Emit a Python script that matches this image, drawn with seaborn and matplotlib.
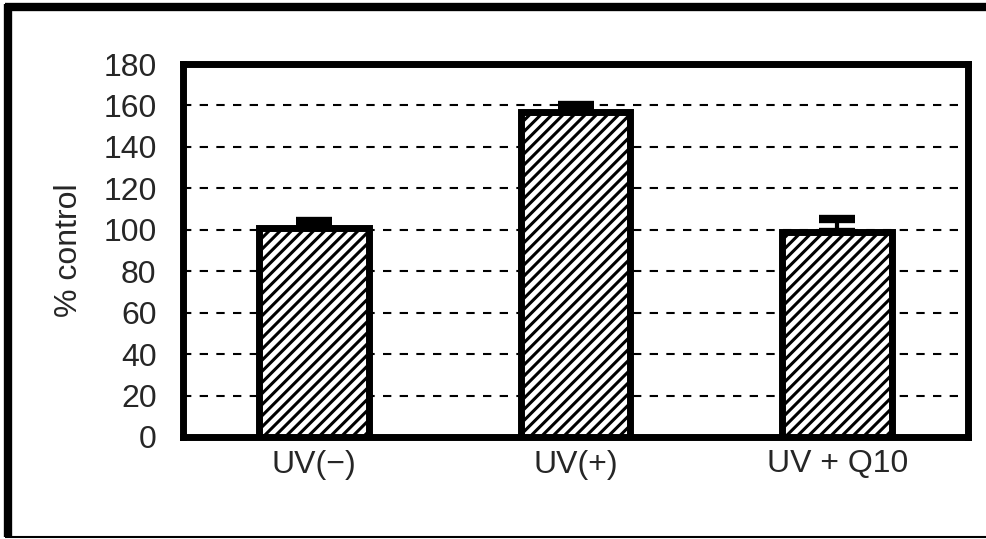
import numpy as np
import pandas as pd
import seaborn as sns
import matplotlib.pyplot as plt
from matplotlib.lines import Line2D

# datos
grupos = ['UV(\u2212)', 'UV(+)', 'UV + Q10']
valores = [101, 157, 99]
errores = [3, 3, 6]
yticks = [0, 20, 40, 60, 80, 100, 120, 140, 160, 180]

df = pd.DataFrame({'grupo': grupos, 'valor': valores, 'error': errores})

sns.set_style('white')
plt.rcParams['font.family'] = ['Liberation Sans', 'DejaVu Sans']
plt.rcParams['hatch.linewidth'] = 2.2

fig = plt.figure(figsize=(9.86, 5.39), dpi=100)
ax = fig.add_axes([183 / 986, 1 - 437 / 539, 785 / 986, 373 / 539])

sns.barplot(data=df, x='grupo', y='valor', color='white', edgecolor='black',
            linewidth=5, width=0.42, ax=ax, zorder=3)
for p in ax.patches:
    p.set_hatch('///')
    p.set_facecolor('white')

# barras de error solo hacia arriba
ax.errorbar(np.arange(len(grupos)), df['valor'], yerr=[np.zeros(len(grupos)), df['error']],
            fmt='none', ecolor='black', elinewidth=3, capsize=13, capthick=6, zorder=2)

ax.set_ylim(0, 180)
ax.set_xlim(-0.5, 2.5)
ax.set_yticks(yticks)
ax.set_yticklabels([str(t) for t in yticks], fontsize=23)
ax.set_xticks(range(len(grupos)))
ax.set_xticklabels(grupos, fontsize=23)
ax.tick_params(axis='x', length=0, pad=9)
ax.tick_params(axis='y', direction='in', length=6, width=1, pad=19)
ax.set_xticks([0.5, 1.5], minor=True)
ax.tick_params(axis='x', which='minor', direction='in', length=6, width=1)
ax.set_xlabel('')
ax.set_ylabel('% control', fontsize=23, labelpad=14)

for t in yticks[1:-1]:
    ax.axhline(t, color='black', linestyle=(0, (4, 4)), linewidth=1.5, zorder=1)

for s in ax.spines.values():
    s.set_linewidth(5)
    s.set_color('black')

# marco exterior (izquierda, arriba gruesos; abajo fino)
W, H = 986, 539
fig.add_artist(Line2D([8 / W, 8 / W], [2 / H, 1 - 4 / H], transform=fig.transFigure,
                      color='black', linewidth=6, solid_capstyle='butt'))
fig.add_artist(Line2D([5 / W, 1], [1 - 7 / H, 1 - 7 / H], transform=fig.transFigure,
                      color='black', linewidth=6, solid_capstyle='butt'))
fig.add_artist(Line2D([5 / W, 1], [2 / H, 2 / H], transform=fig.transFigure,
                      color='black', linewidth=1.5, solid_capstyle='butt'))

fig.savefig('out.png', dpi=100)
